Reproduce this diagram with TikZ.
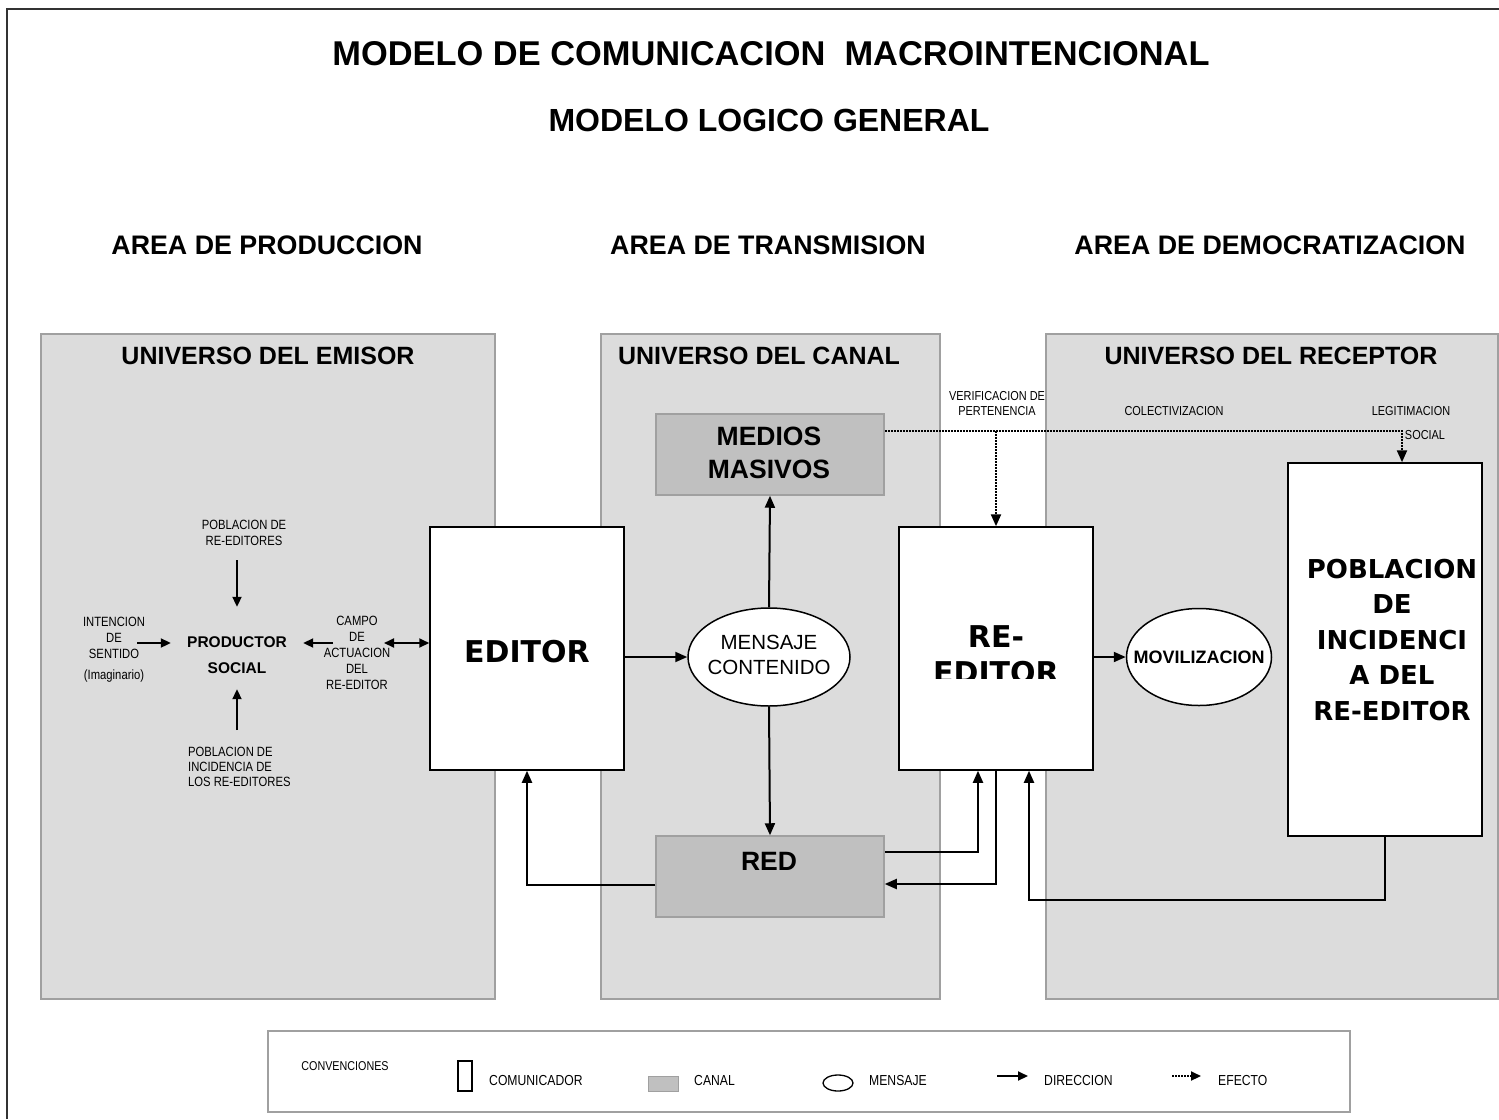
\documentclass[tikz,border=0pt]{standalone}
\usepackage{fontspec}
\setmainfont{Liberation Sans}
\newfontfamily\dvfont{DejaVu Sans}
\newfontfamily\narrowfont{Liberation Sans}[FakeStretch=0.84]
\usetikzlibrary{arrows.meta,shapes.geometric}
\definecolor{panelgray}{HTML}{DCDCDC}
\definecolor{panelborder}{HTML}{A0A0A0}
\definecolor{canalgray}{HTML}{C0C0C0}
\begin{document}
\begin{tikzpicture}[x=1pt,y=-1pt,
  every node/.style={inner sep=0pt},
  panel/.style={draw=panelborder, fill=panelgray, line width=1.5pt, anchor=north west},
  comm/.style={draw=black, fill=white, line width=1.5pt},
  canalbox/.style={draw=panelborder, fill=canalgray, line width=1.5pt},
  msg/.style={ellipse, draw=black, fill=white, line width=1.5pt},
  dir/.style={line width=2pt, -{Triangle[length=12pt,width=10pt]}},
  sdir/.style={line width=2pt, -{Triangle[length=10pt,width=9pt]}},
  eff/.style={line width=2.2pt, dash pattern=on 2pt off 1pt, -{Triangle[length=12pt,width=10pt]}},
  title/.style={font=\fontsize{34.4}{40}\selectfont\bfseries},
  subtitle/.style={font=\fontsize{32}{38}\selectfont\bfseries},
  areahead/.style={font=\fontsize{26.8}{32}\selectfont\bfseries},
  unihead/.style={font=\fontsize{25}{30}\selectfont\bfseries},
  small/.style={font=\fontsize{13.4}{16}\selectfont\narrowfont, align=center},
  legtext/.style={font=\fontsize{14.5}{16}\selectfont\narrowfont, anchor=west},
  bigdv/.style={font=\fontsize{30}{36}\selectfont\dvfont\bfseries, align=center},
  canaltext/.style={font=\fontsize{26.5}{33}\selectfont\bfseries, align=center}
]
\useasboundingbox (0,0) rectangle (1499,1119);
\fill[white] (0,0) rectangle (1499,1119);
\draw[line width=2.5pt, black!80] (7,1119) -- (7,9) -- (1499,9);

% titles
\node[title] (t1) at (771,54) {MODELO DE COMUNICACION\ \ MACROINTENCIONAL};
\node[subtitle] (t2) at (769,120) {MODELO LOGICO GENERAL};
\node[areahead] (a1) at (267,245) {AREA DE PRODUCCION};
\node[areahead] (a2) at (768,245) {AREA DE TRANSMISION};
\node[areahead] (a3) at (1270,245) {AREA DE DEMOCRATIZACION};

% panels
\node[panel, minimum width=454pt, minimum height=665pt] (emisor) at (40,333) {};
\node[panel, minimum width=339pt, minimum height=665pt] (canal) at (600,333) {};
\node[panel, minimum width=452pt, minimum height=665pt] (receptor) at (1045,333) {};
\node[unihead] (h1) at (268,356) {UNIVERSO DEL EMISOR};
\node[unihead] (h2) at (759,356) {UNIVERSO DEL CANAL};
\node[unihead] (h3) at (1271,356) {UNIVERSO DEL RECEPTOR};

% canal boxes
\node[canalbox, minimum width=228pt, minimum height=81pt] (medios) at (770,454.5) {};
\node[canaltext] (mediosT) at (769,453) {MEDIOS\\MASIVOS};
\node[canalbox, minimum width=228pt, minimum height=81pt] (red) at (770,876.5) {};
\node[canaltext] (redT) at (769,861) {RED};
\node[msg, minimum width=162pt, minimum height=98pt] (mensaje) at (769,657) {};
\node[font=\fontsize{20.5}{25}\selectfont, align=center] (mensajeT) at (769,655) {MENSAJE\\CONTENIDO};

% communicators
\node[comm, minimum width=194pt, minimum height=243pt] (editor) at (527,648.5) {};
\node[bigdv] (editorT) at (527,652) {EDITOR};
\node[comm, minimum width=194pt, minimum height=243pt] (reeditor) at (996,648.5) {};
\begin{scope}
  \clip (899,600) rectangle (1093,678);
  \node[bigdv] (reeditorT) at (996,655) {RE-\\EDITOR};
\end{scope}
\node[msg, minimum width=145pt, minimum height=97pt] (movil) at (1199,657) {};
\node[font=\fontsize{18}{22}\selectfont\bfseries] (movilT) at (1199,657) {MOVILIZACION};
\node[comm, minimum width=194pt, minimum height=373pt] (pob) at (1385,649.5) {};
\node[font=\fontsize{26}{35.5}\selectfont\dvfont\bfseries, align=center] (pobT) at (1392,640) {POBLACION\\DE\\INCIDENCI\\A DEL\\RE-EDITOR};

% left area
\node[minimum width=132pt, minimum height=96pt] (prod) at (237,655) {};
\node[font=\fontsize{15.5}{26}\selectfont\bfseries, align=center] (prodT) at (237,655) {PRODUCTOR\\SOCIAL};
\node[small] (pobRe) at (244,533) {POBLACION DE\\RE-EDITORES};
\node[small, align=left, anchor=west, font=\fontsize{13.4}{15}\selectfont\narrowfont] (pobInc) at (188,767) {POBLACION DE\\INCIDENCIA DE\\LOS RE-EDITORES};
\node[small] (intencion) at (114,637.5) {INTENCION\\DE\\SENTIDO};
\node[small] (imag) at (114,676) {(Imaginario)};
\node[small] (campo) at (357,653) {CAMPO\\DE\\ACTUACION\\DEL\\RE-EDITOR};

\coordinate (aTop) at (237,560);
\coordinate (aBot) at (237,730);
\coordinate (aInt) at (137,643);
\coordinate (aCampo) at (333,643);
\coordinate (aDbl) at (384,643);
\draw[sdir] (aTop) -- (aTop |- prod.north);
\draw[sdir] (aBot) -- ([yshift=14pt]prod.south);
\draw[sdir] (aInt) -- (aInt -| prod.west);
\draw[sdir] (aCampo) -- (aCampo -| prod.east);
\draw[line width=2pt, {Triangle[length=10pt,width=9pt]}-{Triangle[length=10pt,width=9pt]}] (aDbl) -- (aDbl -| editor.west);

% main connectors
\draw[dir] (editor.east |- mensaje.west) -- (mensaje.west);
\draw[dir] (mensaje.north) -- (medios.south);
\draw[dir] (mensaje.south) -- (red.north);
\draw[dir] ([yshift=-8.5pt]red.west) -| (editor.south);
\draw[dir] ([yshift=24.5pt]red.east) -| ([xshift=-18pt]reeditor.south);
\draw[dir] (reeditor.south) |- ([yshift=-7.5pt]red.east);
\coordinate (loopB) at (1029,900);
\draw[dir] (pob.south) |- (loopB) -- (loopB |- reeditor.south);
\draw[dir] (reeditor.east |- movil.west) -- (movil.west);

% effect connectors
\coordinate (effLine) at (996,431);
\draw[eff] ([yshift=23.5pt]medios.east) -| ([xshift=17pt]pob.north);
\draw[eff] (effLine) -- (reeditor.north);
\node[small, font=\fontsize{13}{15}\selectfont\narrowfont] (verif) at (997,403.5) {VERIFICACION DE\\PERTENENCIA};
\node[small, font=\fontsize{13}{15}\selectfont\narrowfont] (colect) at (1174,411) {COLECTIVIZACION};
\node[small, font=\fontsize{13}{15}\selectfont\narrowfont] (legit) at (1411,411) {LEGITIMACION};
\node[small, font=\fontsize{13}{15}\selectfont\narrowfont] (social) at (1425,435) {SOCIAL};

% legend
\node[draw=panelborder, line width=1.5pt, fill=white, minimum width=1082pt, minimum height=81pt, anchor=north west] (legend) at (267,1030) {};
\node[font=\fontsize{12.8}{15}\selectfont\narrowfont] (conv) at (345,1066) {CONVENCIONES};
\node[comm, line width=1.3pt, minimum width=14pt, minimum height=30pt] (lgComm) at (465,1076) {};
\node[legtext] (lgCommT) at (489,1080) {COMUNICADOR};
\node[canalbox, line width=1pt, minimum width=30pt, minimum height=15pt] (lgCanal) at (663,1083.5) {};
\node[legtext] (lgCanalT) at (694,1080) {CANAL};
\node[msg, line width=1.3pt, minimum width=30pt, minimum height=16pt] (lgMsg) at (838,1083) {};
\node[legtext] (lgMsgT) at (869,1080) {MENSAJE};
\coordinate (lgDirA) at (997,1076);
\coordinate (lgDirB) at (1028,1076);
\draw[line width=2pt, -{Triangle[length=10pt,width=9pt]}] (lgDirA) -- (lgDirB);
\node[legtext] (lgDirT) at (1044,1080) {DIRECCION};
\coordinate (lgEffA) at (1172,1076);
\coordinate (lgEffB) at (1201,1076);
\draw[line width=2pt, dash pattern=on 2pt off 1pt, -{Triangle[length=10pt,width=9pt]}] (lgEffA) -- (lgEffB);
\node[legtext] (lgEffT) at (1218,1080) {EFECTO};
\end{tikzpicture}
\end{document}
